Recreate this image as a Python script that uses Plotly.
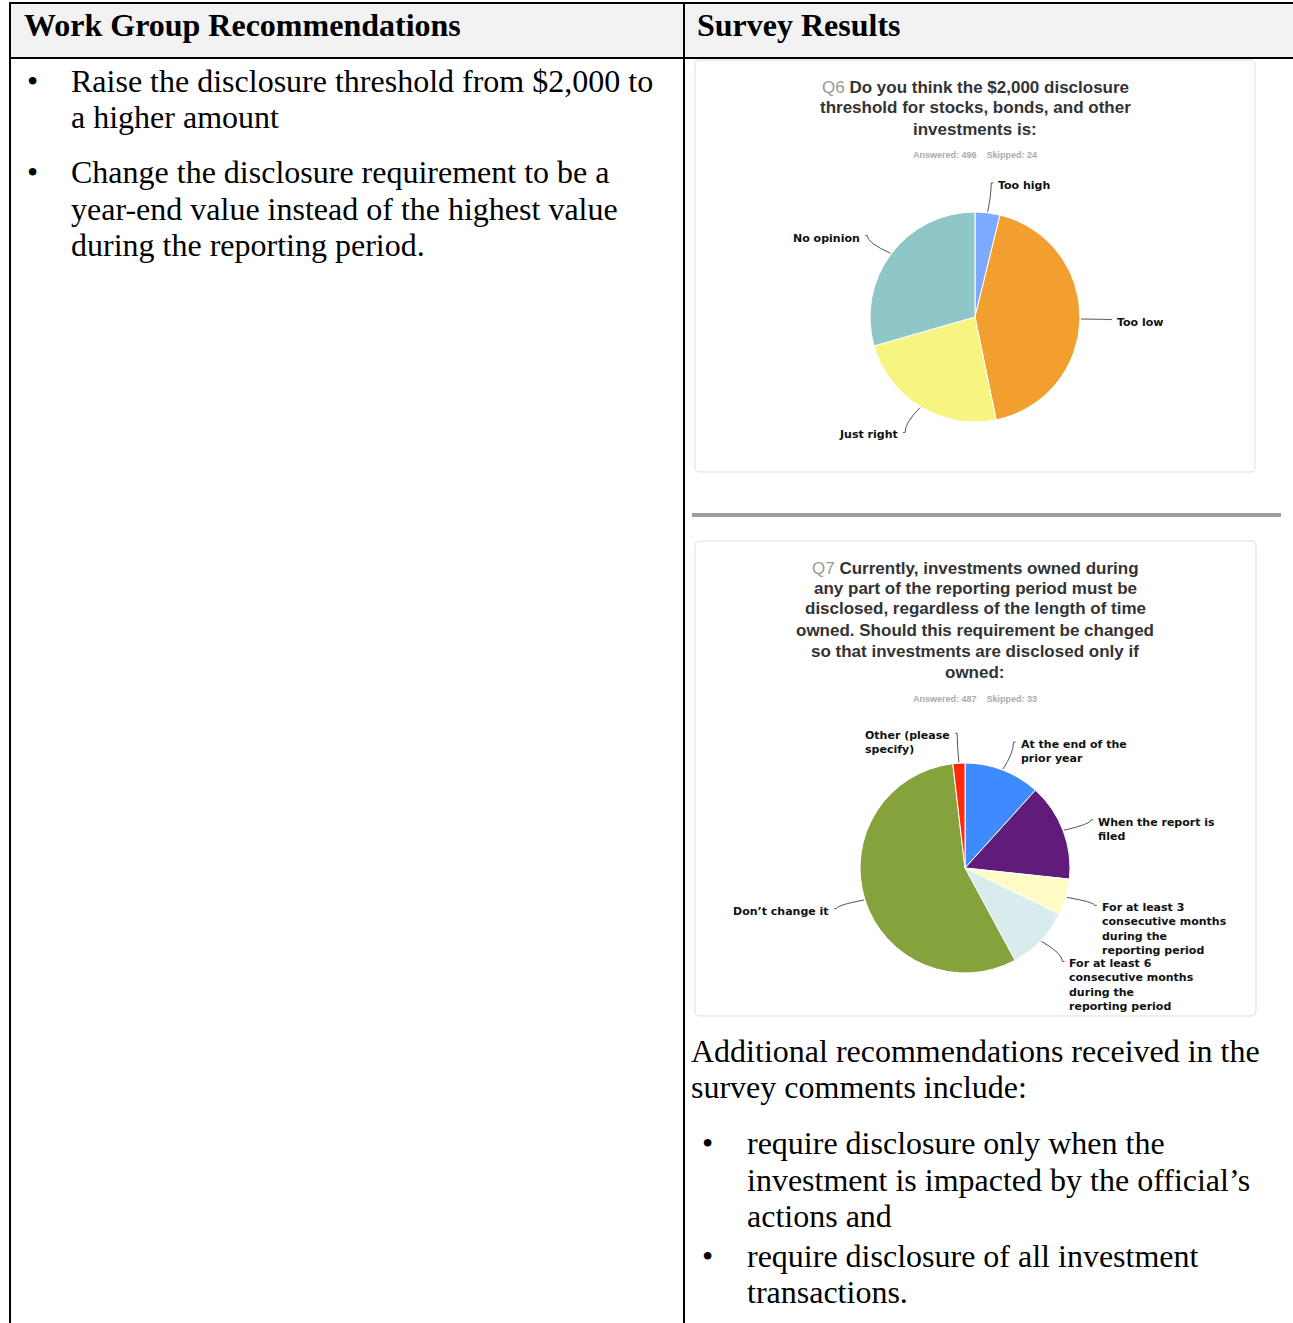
import math
import plotly.graph_objects as go

PAGE_W, PAGE_H = 1293, 1323
W, H = PAGE_W, PAGE_H
PAD = 3  # annotation inner padding compensation

# ---------------- data ----------------
header_left = "Work Group Recommendations"
header_right = "Survey Results"

left_bullets = [
    ["Raise the disclosure threshold from $2,000 to", "a higher amount"],
    ["Change the disclosure requirement to be a",
     "year-end value instead of the highest value",
     "during the reporting period."],
]

q6_title = ["Do you think the $2,000 disclosure",
            "threshold for stocks, bonds, and other",
            "investments is:"]
q6_num = "Q6"
q6_answered, q6_skipped = 496, 24
q6_labels = ["Too high", "Too low", "Just right", "No opinion"]
q6_counts = [19, 213, 118, 146]
q6_colors = ["#7caaff", "#f29f2f", "#f7f47f", "#8fc7c9"]

q7_title = ["Currently, investments owned during",
            "any part of the reporting period must be",
            "disclosed, regardless of the length of time",
            "owned. Should this requirement be changed",
            "so that investments are disclosed only if",
            "owned:"]
q7_num = "Q7"
q7_answered, q7_skipped = 487, 33
q7_labels = ["At the end of the<br>prior year",
             "When the report is<br>filed",
             "For at least 3<br>consecutive months<br>during the<br>reporting period",
             "For at least 6<br>consecutive months<br>during the<br>reporting period",
             "Don’t change it",
             "Other (please<br>specify)"]
q7_counts = [57, 73, 27, 48, 273, 9]
q7_colors = ["#3d8bff", "#611b7b", "#fffbc4", "#d9eced", "#86a23d", "#ff2a0b"]

extra_intro = ["Additional recommendations received in the",
               "survey comments include:"]
extra_bullets = [
    ["require disclosure only when the",
     "investment is impacted by the official’s",
     "actions and"],
    ["require disclosure of all investment",
     "transactions."],
]

# ---------------- helpers (page pixel -> paper) ----------------
def px(x):
    return x / W


def py(y):
    return 1 - y / H


fig = go.Figure()
shapes = []
annotations = []

SERIF = "Liberation Serif"
SANS = "Liberation Sans"
DEJAVU = "DejaVu Sans"


def text(x, y, s, size, family, color="#000", xanchor="left", yanchor="middle"):
    if xanchor == "left":
        x -= PAD
    elif xanchor == "right":
        x += PAD
    annotations.append(dict(
        x=px(x), y=py(y), xref="paper", yref="paper", text=s, showarrow=False,
        xanchor=xanchor, yanchor=yanchor, align="left" if xanchor != "center" else "center",
        font=dict(size=size, family=family, color=color),
    ))


def line(x0, y0, x1, y1, color="#000", width=2):
    shapes.append(dict(type="line", xref="paper", yref="paper",
                       x0=px(x0), y0=py(y0), x1=px(x1), y1=py(y1),
                       line=dict(color=color, width=width), layer="above"))


def rounded_box(x0, y0, x1, y1, rad=5, color="#dddddd"):
    p = (f"M {px(x0+rad)},{py(y0)} L {px(x1-rad)},{py(y0)} "
         f"Q {px(x1)},{py(y0)} {px(x1)},{py(y0+rad)} "
         f"L {px(x1)},{py(y1-rad)} Q {px(x1)},{py(y1)} {px(x1-rad)},{py(y1)} "
         f"L {px(x0+rad)},{py(y1)} Q {px(x0)},{py(y1)} {px(x0)},{py(y1-rad)} "
         f"L {px(x0)},{py(y0+rad)} Q {px(x0)},{py(y0)} {px(x0+rad)},{py(y0)} Z")
    shapes.append(dict(type="path", xref="paper", yref="paper", path=p,
                       line=dict(color=color, width=1), fillcolor="rgba(0,0,0,0)",
                       layer="below"))


# ---------------- table frame ----------------
shapes.append(dict(type="rect", xref="paper", yref="paper",
                   x0=px(10), y0=py(58), x1=px(PAGE_W), y1=py(3),
                   fillcolor="#f2f2f2", line=dict(width=0), layer="below"))
line(9, 3, PAGE_W, 3)
line(9, 58, PAGE_W, 58)
line(10, 2, 10, PAGE_H)
line(684, 2, 684, PAGE_H)

text(25, 25, f"<b>{header_left}</b>", 32, SERIF)
text(698, 25, f"<b>{header_right}</b>", 32, SERIF)

# left column bullets
left_line_y = [[81, 117], [172, 209, 245]]
for bullet, ys in zip(left_bullets, left_line_y):
    text(32, ys[0], "•", 32, SERIF, xanchor="center")
    for s, yy in zip(bullet, ys):
        text(72, yy, s, 32, SERIF)

# ---------------- survey panels ----------------
rounded_box(695, 60, 1255, 472)
rounded_box(695, 541, 1256, 1016)
line(692, 515, 1281, 515, color="#9e9e9e", width=4)


def pie_panel(num, title_lines, title_ys, answered, skipped, ans_y,
              labels, counts, colors, cx, cy, r):
    for i, (s, yy) in enumerate(zip(title_lines, title_ys)):
        t = f"<b>{s}</b>"
        if i == 0:
            t = f"<span style='color:#999999'>{num}</span> " + t
        text(975, yy, t, 17, SANS, color="#333333", xanchor="center")
    text(975, ans_y,
         f"<b>Answered: {answered}&nbsp;&nbsp;&nbsp;&nbsp;Skipped: {skipped}</b>",
         9, SANS, color="#aaaaaa", xanchor="center")

    fig.add_trace(go.Pie(
        values=counts, labels=[l.replace("<br>", " ") for l in labels],
        marker=dict(colors=colors, line=dict(color="#ffffff", width=1)),
        sort=False, direction="clockwise", rotation=0,
        textinfo="none", textposition="none", hoverinfo="label+percent",
        domain=dict(x=[px(cx - r), px(cx + r)], y=[py(cy + r), py(cy - r)]),
        showlegend=False,
    ))

    total = sum(counts)
    cum = 0
    for lab, c in zip(labels, counts):
        mid = (cum + c / 2) / total * 2 * math.pi
        cum += c
        sx, sy = math.sin(mid), -math.cos(mid)
        x1, y1 = cx + (r + 1) * sx, cy + (r + 1) * sy
        x2, y2 = cx + (r + 30) * sx, cy + (r + 30) * sy
        side = 1 if sx >= 0 else -1
        x3 = x2 + 2 * side
        shapes.append(dict(
            type="path", xref="paper", yref="paper",
            path=f"M {px(x1)},{py(y1)} Q {px(x2)},{py(y1 + (y2 - y1) * 0.6)} {px(x2)},{py(y2)} L {px(x3)},{py(y2)}",
            line=dict(color="#555555", width=1), layer="above"))
        text(x2 + 8 * side, y2 - 6, f"<b>{lab}</b>", 11, DEJAVU, color="#111111",
             xanchor="left" if side > 0 else "right", yanchor="top")


pie_panel(q6_num, q6_title, [87, 108, 129], q6_answered, q6_skipped, 155,
          q6_labels, q6_counts, q6_colors, 975, 317, 105)
pie_panel(q7_num, q7_title, [568, 589, 609, 630, 651, 672], q7_answered, q7_skipped, 699,
          q7_labels, q7_counts, q7_colors, 965, 868, 105)

# ---------------- additional recommendations ----------------
for s, yy in zip(extra_intro, [1051, 1087]):
    text(692, yy, s, 32, SERIF)
extra_ys = [[1143, 1180, 1216], [1256, 1292]]
for bullet, ys in zip(extra_bullets, extra_ys):
    text(707, ys[0], "•", 32, SERIF, xanchor="center")
    for s, yy in zip(bullet, ys):
        text(748, yy, s, 32, SERIF)

fig.update_layout(
    width=W, height=H, autosize=False,
    margin=dict(l=0, r=0, t=0, b=0),
    paper_bgcolor="#ffffff", plot_bgcolor="#ffffff",
    shapes=shapes, annotations=annotations,
    showlegend=False,
)
fig.update_xaxes(visible=False)
fig.update_yaxes(visible=False)

fig.write_html(
    "out.html",
    config={"displayModeBar": False},
    post_script="document.body.style.margin='0';document.body.style.overflow='hidden';",
)
